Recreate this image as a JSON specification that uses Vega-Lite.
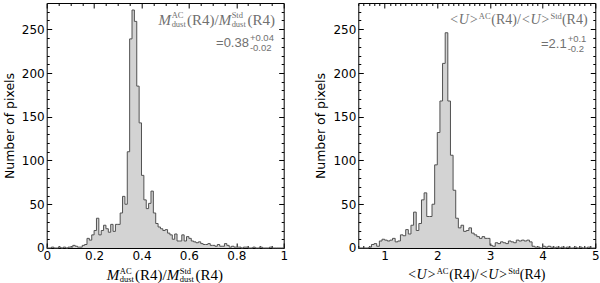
{
  "$schema": "https://vega.github.io/schema/vega-lite/v6.json",
  "padding": {"left": 2.7, "top": 2, "right": 0, "bottom": 0},
  "spacing": 25.6,
  "config": {
    "view": {"stroke": "black", "strokeWidth": 1},
    "axis": {"grid": false, "domain": false, "tickColor": "black", "tickWidth": 1, "labelColor": "black", "labelFont": "DejaVu Sans", "labelFontSize": 12, "labelOverlap": false, "labelFlush": false},
    "text": {"font": "Liberation Serif", "baseline": "middle", "align": "left"}
  },
  "datasets": {
    "one": [{}],
    "left": [
      {"x":0.00,"n":0},{"x":0.01,"n":0},{"x":0.02,"n":1},{"x":0.03,"n":0},{"x":0.04,"n":0},{"x":0.05,"n":1},{"x":0.06,"n":0},{"x":0.07,"n":1},{"x":0.08,"n":0},{"x":0.09,"n":1},
      {"x":0.10,"n":1},{"x":0.11,"n":3},{"x":0.12,"n":2},{"x":0.13,"n":1},{"x":0.14,"n":1},{"x":0.15,"n":3},{"x":0.16,"n":4},{"x":0.17,"n":11},{"x":0.18,"n":9},{"x":0.19,"n":15},
      {"x":0.20,"n":20},{"x":0.21,"n":34},{"x":0.22,"n":15},{"x":0.23,"n":20},{"x":0.24,"n":26},{"x":0.25,"n":22},{"x":0.26,"n":18},{"x":0.27,"n":27},{"x":0.28,"n":19},{"x":0.29,"n":27},
      {"x":0.30,"n":27},{"x":0.31,"n":40},{"x":0.32,"n":59},{"x":0.33,"n":50},{"x":0.34,"n":110},{"x":0.35,"n":239},{"x":0.36,"n":272},{"x":0.37,"n":259},{"x":0.38,"n":185},{"x":0.39,"n":143},
      {"x":0.40,"n":83},{"x":0.41,"n":55},{"x":0.42,"n":45},{"x":0.43,"n":51},{"x":0.44,"n":65},{"x":0.45,"n":40},{"x":0.46,"n":28},{"x":0.47,"n":24},{"x":0.48,"n":22},{"x":0.49,"n":20},
      {"x":0.50,"n":21},{"x":0.51,"n":17},{"x":0.52,"n":15},{"x":0.53,"n":10},{"x":0.54,"n":16},{"x":0.55,"n":8},{"x":0.56,"n":8},{"x":0.57,"n":15},{"x":0.58,"n":8},{"x":0.59,"n":13},
      {"x":0.60,"n":11},{"x":0.61,"n":8},{"x":0.62,"n":7},{"x":0.63,"n":6},{"x":0.64,"n":7},{"x":0.65,"n":5},{"x":0.66,"n":4},{"x":0.67,"n":4},{"x":0.68,"n":5},{"x":0.69,"n":3},
      {"x":0.70,"n":3},{"x":0.71,"n":2},{"x":0.72,"n":4},{"x":0.73,"n":2},{"x":0.74,"n":2},{"x":0.75,"n":5},{"x":0.76,"n":3},{"x":0.77,"n":1},{"x":0.78,"n":2},{"x":0.79,"n":1},
      {"x":0.80,"n":1},{"x":0.81,"n":1},{"x":0.82,"n":0},{"x":0.83,"n":1},{"x":0.84,"n":1},{"x":0.85,"n":0},{"x":0.86,"n":0},{"x":0.87,"n":1},{"x":0.88,"n":0},{"x":0.89,"n":0},
      {"x":0.90,"n":1},{"x":0.91,"n":0},{"x":0.92,"n":0},{"x":0.93,"n":0},{"x":0.94,"n":1},{"x":0.95,"n":0},{"x":0.96,"n":0},{"x":0.97,"n":0},{"x":0.98,"n":0},{"x":0.99,"n":0},
      {"x":1.00,"n":0}
    ],
    "right": [
      {"x":0.50,"n":0},{"x":0.55,"n":0},{"x":0.60,"n":0},{"x":0.65,"n":0},{"x":0.70,"n":1},{"x":0.75,"n":4},{"x":0.80,"n":5},{"x":0.85,"n":2},{"x":0.90,"n":8},{"x":0.95,"n":10},
      {"x":1.00,"n":9},{"x":1.05,"n":8},{"x":1.10,"n":9},{"x":1.15,"n":11},{"x":1.20,"n":7},{"x":1.25,"n":8},{"x":1.30,"n":15},{"x":1.35,"n":14},{"x":1.40,"n":21},{"x":1.45,"n":16},
      {"x":1.50,"n":26},{"x":1.55,"n":41},{"x":1.60,"n":20},{"x":1.65,"n":28},{"x":1.70,"n":55},{"x":1.75,"n":63},{"x":1.80,"n":36},{"x":1.85,"n":36},{"x":1.90,"n":50},{"x":1.95,"n":95},
      {"x":2.00,"n":132},{"x":2.05,"n":168},{"x":2.10,"n":211},{"x":2.15,"n":246},{"x":2.20,"n":168},{"x":2.25,"n":106},{"x":2.30,"n":66},{"x":2.35,"n":34},{"x":2.40,"n":23},{"x":2.45,"n":26},
      {"x":2.50,"n":19},{"x":2.55,"n":20},{"x":2.60,"n":23},{"x":2.65,"n":17},{"x":2.70,"n":15},{"x":2.75,"n":13},{"x":2.80,"n":11},{"x":2.85,"n":13},{"x":2.90,"n":11},{"x":2.95,"n":11},
      {"x":3.00,"n":3},{"x":3.05,"n":2},{"x":3.10,"n":6},{"x":3.15,"n":5},{"x":3.20,"n":7},{"x":3.25,"n":6},{"x":3.30,"n":5},{"x":3.35,"n":8},{"x":3.40,"n":7},{"x":3.45,"n":6},
      {"x":3.50,"n":9},{"x":3.55,"n":8},{"x":3.60,"n":9},{"x":3.65,"n":8},{"x":3.70,"n":9},{"x":3.75,"n":7},{"x":3.80,"n":2},{"x":3.85,"n":1},{"x":3.90,"n":1},{"x":3.95,"n":0},
      {"x":4.00,"n":2},{"x":4.05,"n":1},{"x":4.10,"n":2},{"x":4.15,"n":1},{"x":4.20,"n":0},{"x":4.25,"n":1},{"x":4.30,"n":0},{"x":4.35,"n":1},{"x":4.40,"n":0},{"x":4.45,"n":1},
      {"x":4.50,"n":0},{"x":4.55,"n":0},{"x":4.60,"n":1},{"x":4.65,"n":0},{"x":4.70,"n":1},{"x":4.75,"n":0},{"x":4.80,"n":0},{"x":4.85,"n":1},{"x":4.90,"n":0},{"x":4.95,"n":0},
      {"x":5.00,"n":0}
    ]
  },
  "hconcat": [
    {
      "width": 237,
      "height": 245,
      "layer": [
        {
          "data": {"name": "left"},
          "mark": {"type": "area", "interpolate": "step-after", "color": "#d3d3d3"},
          "encoding": {
            "x": {"field": "x", "type": "quantitative", "scale": {"domain": [0, 1], "nice": false, "zero": false},
              "axis": {"orient": "bottom", "title": null, "values": [0,0.05,0.1,0.15,0.2,0.25,0.3,0.35,0.4,0.45,0.5,0.55,0.6,0.65,0.7,0.75,0.8,0.85,0.9,0.95,1],
                "labelExpr": "abs(datum.value*5-round(datum.value*5))<0.001 ? format(datum.value,'~g') : ''",
                "tickSize": {"condition": {"test": "abs(datum.value*5-round(datum.value*5))<0.001", "value": -5}, "value": -2.5},
                "labelPadding": 8}},
            "y": {"field": "n", "type": "quantitative", "scale": {"domain": [0, 280], "nice": false},
              "axis": {"orient": "left", "title": "Number of pixels", "values": [0,10,20,30,40,50,60,70,80,90,100,110,120,130,140,150,160,170,180,190,200,210,220,230,240,250,260,270],
                "labelExpr": "datum.value % 50 == 0 && datum.value <= 250 ? datum.label : ''",
                "tickSize": {"condition": {"test": "datum.value % 50 == 0", "value": -5}, "value": -2.5},
                "labelPadding": 7.5, "titleFont": "DejaVu Sans", "titleFontSize": 12.5, "titleFontWeight": "normal", "titleColor": "black", "titlePadding": 5}}
          }
        },
        {
          "data": {"name": "left"},
          "mark": {"type": "line", "interpolate": "step-after", "color": "#505050", "strokeWidth": 1},
          "encoding": {
            "x": {"field": "x", "type": "quantitative",
              "axis": {"orient": "top", "title": null, "labels": false, "minExtent": 0, "maxExtent": 0, "values": [0,0.05,0.1,0.15,0.2,0.25,0.3,0.35,0.4,0.45,0.5,0.55,0.6,0.65,0.7,0.75,0.8,0.85,0.9,0.95,1],
                "tickSize": {"condition": {"test": "abs(datum.value*5-round(datum.value*5))<0.001", "value": -5}, "value": -2.5}}},
            "y": {"field": "n", "type": "quantitative",
              "axis": {"orient": "right", "title": null, "labels": false, "minExtent": 0, "maxExtent": 0, "values": [0,10,20,30,40,50,60,70,80,90,100,110,120,130,140,150,160,170,180,190,200,210,220,230,240,250,260,270],
                "tickSize": {"condition": {"test": "datum.value % 50 == 0", "value": -5}, "value": -2.5}}}
          }
        },
        {"data": {"name": "one"}, "mark": {"type": "text", "fontSize": 15, "fontStyle": "italic", "color": "#707070", "dx": -116.5}, "encoding": {"x": {"datum": 0.963, "type": "quantitative", "axis": null}, "y": {"datum": 261, "type": "quantitative", "axis": null}, "text": {"value": "M"}}},
        {"data": {"name": "one"}, "mark": {"type": "text", "fontSize": 8.5, "color": "#707070", "dx": -103.3, "dy": -4.5}, "encoding": {"x": {"datum": 0.963, "type": "quantitative", "axis": null}, "y": {"datum": 261, "type": "quantitative", "axis": null}, "text": {"value": "AC"}}},
        {"data": {"name": "one"}, "mark": {"type": "text", "fontSize": 8.5, "color": "#707070", "dx": -103.3, "dy": 4}, "encoding": {"x": {"datum": 0.963, "type": "quantitative", "axis": null}, "y": {"datum": 261, "type": "quantitative", "axis": null}, "text": {"value": "dust"}}},
        {"data": {"name": "one"}, "mark": {"type": "text", "fontSize": 15, "color": "#707070", "dx": -88}, "encoding": {"x": {"datum": 0.963, "type": "quantitative", "axis": null}, "y": {"datum": 261, "type": "quantitative", "axis": null}, "text": {"value": "(R4)/"}}},
        {"data": {"name": "one"}, "mark": {"type": "text", "fontSize": 15, "fontStyle": "italic", "color": "#707070", "dx": -56.3}, "encoding": {"x": {"datum": 0.963, "type": "quantitative", "axis": null}, "y": {"datum": 261, "type": "quantitative", "axis": null}, "text": {"value": "M"}}},
        {"data": {"name": "one"}, "mark": {"type": "text", "fontSize": 8.5, "color": "#707070", "dx": -43.3, "dy": -4.5}, "encoding": {"x": {"datum": 0.963, "type": "quantitative", "axis": null}, "y": {"datum": 261, "type": "quantitative", "axis": null}, "text": {"value": "Std"}}},
        {"data": {"name": "one"}, "mark": {"type": "text", "fontSize": 8.5, "color": "#707070", "dx": -43.3, "dy": 4}, "encoding": {"x": {"datum": 0.963, "type": "quantitative", "axis": null}, "y": {"datum": 261, "type": "quantitative", "axis": null}, "text": {"value": "dust"}}},
        {"data": {"name": "one"}, "mark": {"type": "text", "fontSize": 15, "color": "#707070", "dx": -27.5}, "encoding": {"x": {"datum": 0.963, "type": "quantitative", "axis": null}, "y": {"datum": 261, "type": "quantitative", "axis": null}, "text": {"value": "(R4)"}}},
        {"data": {"name": "one"}, "mark": {"type": "text", "font": "Liberation Sans", "fontSize": 13, "color": "#707070", "align": "right", "dx": -26}, "encoding": {"x": {"datum": 0.963, "type": "quantitative", "axis": null}, "y": {"datum": 234, "type": "quantitative", "axis": null}, "text": {"value": "=0.38"}}},
        {"data": {"name": "one"}, "mark": {"type": "text", "font": "Liberation Sans", "fontSize": 9.5, "color": "#707070", "dx": -25, "dy": -5}, "encoding": {"x": {"datum": 0.963, "type": "quantitative", "axis": null}, "y": {"datum": 234, "type": "quantitative", "axis": null}, "text": {"value": "+0.04"}}},
        {"data": {"name": "one"}, "mark": {"type": "text", "font": "Liberation Sans", "fontSize": 9.5, "color": "#707070", "dx": -25, "dy": 4.5}, "encoding": {"x": {"datum": 0.963, "type": "quantitative", "axis": null}, "y": {"datum": 234, "type": "quantitative", "axis": null}, "text": {"value": "-0.02"}}},
        {"data": {"name": "one"}, "mark": {"type": "text", "fontSize": 15, "fontStyle": "italic", "color": "black", "dx": -58.5, "dy": 27.5}, "encoding": {"x": {"datum": 0.5, "type": "quantitative", "axis": null}, "y": {"datum": 0, "type": "quantitative", "axis": null}, "text": {"value": "M"}}},
        {"data": {"name": "one"}, "mark": {"type": "text", "fontSize": 8.5, "color": "black", "dx": -45.4, "dy": 23}, "encoding": {"x": {"datum": 0.5, "type": "quantitative", "axis": null}, "y": {"datum": 0, "type": "quantitative", "axis": null}, "text": {"value": "AC"}}},
        {"data": {"name": "one"}, "mark": {"type": "text", "fontSize": 8.5, "color": "black", "dx": -45.4, "dy": 31.5}, "encoding": {"x": {"datum": 0.5, "type": "quantitative", "axis": null}, "y": {"datum": 0, "type": "quantitative", "axis": null}, "text": {"value": "dust"}}},
        {"data": {"name": "one"}, "mark": {"type": "text", "fontSize": 15, "color": "black", "dx": -30.1, "dy": 27.5}, "encoding": {"x": {"datum": 0.5, "type": "quantitative", "axis": null}, "y": {"datum": 0, "type": "quantitative", "axis": null}, "text": {"value": "(R4)/"}}},
        {"data": {"name": "one"}, "mark": {"type": "text", "fontSize": 15, "fontStyle": "italic", "color": "black", "dx": 1.6, "dy": 27.5}, "encoding": {"x": {"datum": 0.5, "type": "quantitative", "axis": null}, "y": {"datum": 0, "type": "quantitative", "axis": null}, "text": {"value": "M"}}},
        {"data": {"name": "one"}, "mark": {"type": "text", "fontSize": 8.5, "color": "black", "dx": 14.6, "dy": 23}, "encoding": {"x": {"datum": 0.5, "type": "quantitative", "axis": null}, "y": {"datum": 0, "type": "quantitative", "axis": null}, "text": {"value": "Std"}}},
        {"data": {"name": "one"}, "mark": {"type": "text", "fontSize": 8.5, "color": "black", "dx": 14.6, "dy": 31.5}, "encoding": {"x": {"datum": 0.5, "type": "quantitative", "axis": null}, "y": {"datum": 0, "type": "quantitative", "axis": null}, "text": {"value": "dust"}}},
        {"data": {"name": "one"}, "mark": {"type": "text", "fontSize": 15, "color": "black", "dx": 30.4, "dy": 27.5}, "encoding": {"x": {"datum": 0.5, "type": "quantitative", "axis": null}, "y": {"datum": 0, "type": "quantitative", "axis": null}, "text": {"value": "(R4)"}}}
      ]
    },
    {
      "width": 237,
      "height": 245,
      "layer": [
        {
          "data": {"name": "right"},
          "mark": {"type": "area", "interpolate": "step-after", "color": "#d3d3d3"},
          "encoding": {
            "x": {"field": "x", "type": "quantitative", "scale": {"domain": [0.5, 5], "nice": false, "zero": false},
              "axis": {"orient": "bottom", "title": null, "values": [0.5,0.6,0.7,0.8,0.9,1,1.1,1.2,1.3,1.4,1.5,1.6,1.7,1.8,1.9,2,2.1,2.2,2.3,2.4,2.5,2.6,2.7,2.8,2.9,3,3.1,3.2,3.3,3.4,3.5,3.6,3.7,3.8,3.9,4,4.1,4.2,4.3,4.4,4.5,4.6,4.7,4.8,4.9,5],
                "labelExpr": "abs(datum.value-round(datum.value))<0.001 ? format(datum.value,'~g') : ''",
                "tickSize": {"condition": {"test": "abs(datum.value-round(datum.value))<0.001", "value": -5}, "value": -2.5},
                "labelPadding": 8}},
            "y": {"field": "n", "type": "quantitative", "scale": {"domain": [0, 280], "nice": false},
              "axis": {"orient": "left", "title": "Number of pixels", "values": [0,10,20,30,40,50,60,70,80,90,100,110,120,130,140,150,160,170,180,190,200,210,220,230,240,250,260,270],
                "labelExpr": "datum.value % 50 == 0 && datum.value <= 250 ? datum.label : ''",
                "tickSize": {"condition": {"test": "datum.value % 50 == 0", "value": -5}, "value": -2.5},
                "labelPadding": 7.5, "titleFont": "DejaVu Sans", "titleFontSize": 12.5, "titleFontWeight": "normal", "titleColor": "black", "titlePadding": 5}}
          }
        },
        {
          "data": {"name": "right"},
          "mark": {"type": "line", "interpolate": "step-after", "color": "#505050", "strokeWidth": 1},
          "encoding": {
            "x": {"field": "x", "type": "quantitative",
              "axis": {"orient": "top", "title": null, "labels": false, "minExtent": 0, "maxExtent": 0, "values": [0.5,0.6,0.7,0.8,0.9,1,1.1,1.2,1.3,1.4,1.5,1.6,1.7,1.8,1.9,2,2.1,2.2,2.3,2.4,2.5,2.6,2.7,2.8,2.9,3,3.1,3.2,3.3,3.4,3.5,3.6,3.7,3.8,3.9,4,4.1,4.2,4.3,4.4,4.5,4.6,4.7,4.8,4.9,5],
                "tickSize": {"condition": {"test": "abs(datum.value-round(datum.value))<0.001", "value": -5}, "value": -2.5}}},
            "y": {"field": "n", "type": "quantitative",
              "axis": {"orient": "right", "title": null, "labels": false, "minExtent": 0, "maxExtent": 0, "values": [0,10,20,30,40,50,60,70,80,90,100,110,120,130,140,150,160,170,180,190,200,210,220,230,240,250,260,270],
                "tickSize": {"condition": {"test": "datum.value % 50 == 0", "value": -5}, "value": -2.5}}}
          }
        },
        {"data": {"name": "one"}, "mark": {"type": "text", "fontSize": 14, "fontStyle": "italic", "color": "#707070", "dx": -138.3}, "encoding": {"x": {"datum": 4.855, "type": "quantitative", "axis": null}, "y": {"datum": 260.5, "type": "quantitative", "axis": null}, "text": {"value": "<U>"}}},
        {"data": {"name": "one"}, "mark": {"type": "text", "fontSize": 8.5, "color": "#707070", "dx": -108.8, "dy": -4.5}, "encoding": {"x": {"datum": 4.855, "type": "quantitative", "axis": null}, "y": {"datum": 260.5, "type": "quantitative", "axis": null}, "text": {"value": "AC"}}},
        {"data": {"name": "one"}, "mark": {"type": "text", "fontSize": 14, "color": "#707070", "dx": -96.3}, "encoding": {"x": {"datum": 4.855, "type": "quantitative", "axis": null}, "y": {"datum": 260.5, "type": "quantitative", "axis": null}, "text": {"value": "(R4)/"}}},
        {"data": {"name": "one"}, "mark": {"type": "text", "fontSize": 14, "fontStyle": "italic", "color": "#707070", "dx": -66.7}, "encoding": {"x": {"datum": 4.855, "type": "quantitative", "axis": null}, "y": {"datum": 260.5, "type": "quantitative", "axis": null}, "text": {"value": "<U>"}}},
        {"data": {"name": "one"}, "mark": {"type": "text", "fontSize": 8.5, "color": "#707070", "dx": -37.2, "dy": -4.5}, "encoding": {"x": {"datum": 4.855, "type": "quantitative", "axis": null}, "y": {"datum": 260.5, "type": "quantitative", "axis": null}, "text": {"value": "Std"}}},
        {"data": {"name": "one"}, "mark": {"type": "text", "fontSize": 14, "color": "#707070", "dx": -25.7}, "encoding": {"x": {"datum": 4.855, "type": "quantitative", "axis": null}, "y": {"datum": 260.5, "type": "quantitative", "axis": null}, "text": {"value": "(R4)"}}},
        {"data": {"name": "one"}, "mark": {"type": "text", "font": "Liberation Sans", "fontSize": 13, "color": "#707070", "align": "right", "dx": -21}, "encoding": {"x": {"datum": 4.855, "type": "quantitative", "axis": null}, "y": {"datum": 233, "type": "quantitative", "axis": null}, "text": {"value": "=2.1"}}},
        {"data": {"name": "one"}, "mark": {"type": "text", "font": "Liberation Sans", "fontSize": 9.5, "color": "#707070", "dx": -20, "dy": -5}, "encoding": {"x": {"datum": 4.855, "type": "quantitative", "axis": null}, "y": {"datum": 233, "type": "quantitative", "axis": null}, "text": {"value": "+0.1"}}},
        {"data": {"name": "one"}, "mark": {"type": "text", "font": "Liberation Sans", "fontSize": 9.5, "color": "#707070", "dx": -20, "dy": 4.5}, "encoding": {"x": {"datum": 4.855, "type": "quantitative", "axis": null}, "y": {"datum": 233, "type": "quantitative", "axis": null}, "text": {"value": "-0.2"}}},
        {"data": {"name": "one"}, "mark": {"type": "text", "fontSize": 14, "fontStyle": "italic", "color": "black", "dx": -69.4, "dy": 27.5}, "encoding": {"x": {"datum": 2.745, "type": "quantitative", "axis": null}, "y": {"datum": 0, "type": "quantitative", "axis": null}, "text": {"value": "<U>"}}},
        {"data": {"name": "one"}, "mark": {"type": "text", "fontSize": 8.5, "color": "black", "dx": -39.9, "dy": 23}, "encoding": {"x": {"datum": 2.745, "type": "quantitative", "axis": null}, "y": {"datum": 0, "type": "quantitative", "axis": null}, "text": {"value": "AC"}}},
        {"data": {"name": "one"}, "mark": {"type": "text", "fontSize": 14, "color": "black", "dx": -27.4, "dy": 27.5}, "encoding": {"x": {"datum": 2.745, "type": "quantitative", "axis": null}, "y": {"datum": 0, "type": "quantitative", "axis": null}, "text": {"value": "(R4)/"}}},
        {"data": {"name": "one"}, "mark": {"type": "text", "fontSize": 14, "fontStyle": "italic", "color": "black", "dx": 2.2, "dy": 27.5}, "encoding": {"x": {"datum": 2.745, "type": "quantitative", "axis": null}, "y": {"datum": 0, "type": "quantitative", "axis": null}, "text": {"value": "<U>"}}},
        {"data": {"name": "one"}, "mark": {"type": "text", "fontSize": 8.5, "color": "black", "dx": 31.7, "dy": 23}, "encoding": {"x": {"datum": 2.745, "type": "quantitative", "axis": null}, "y": {"datum": 0, "type": "quantitative", "axis": null}, "text": {"value": "Std"}}},
        {"data": {"name": "one"}, "mark": {"type": "text", "fontSize": 14, "color": "black", "dx": 43.2, "dy": 27.5}, "encoding": {"x": {"datum": 2.745, "type": "quantitative", "axis": null}, "y": {"datum": 0, "type": "quantitative", "axis": null}, "text": {"value": "(R4)"}}}
      ]
    }
  ]
}
